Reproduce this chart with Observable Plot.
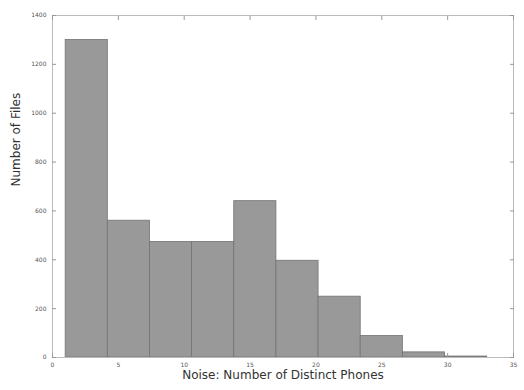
<!DOCTYPE html>
<html>
<head>
<meta charset="utf-8">
<script src="https://cdn.jsdelivr.net/npm/d3@7"></script>
<script src="https://cdn.jsdelivr.net/npm/@observablehq/plot@0.6"></script>
<style>
  html, body { margin: 0; padding: 0; background: #fff; }
  #chart { width: 524px; height: 390px; }
</style>
</head>
<body>
<div id="chart"></div>
<script>
// Histogram bins (edges) and counts
const binStart = [1, 4.2, 7.4, 10.6, 13.8, 17.0, 20.2, 23.4, 26.6, 29.8];
const binEnd   = [4.2, 7.4, 10.6, 13.8, 17.0, 20.2, 23.4, 26.6, 29.8, 33.0];
const counts   = [1300, 560, 473, 473, 640, 396, 249, 88, 21, 4];
const xTicks = [0, 5, 10, 15, 20, 25, 30, 35];
const yTicks = [0, 200, 400, 600, 800, 1000, 1200, 1400];

const bins = binStart.map((s, i) => ({x1: s, x2: binEnd[i], y: counts[i]}));

const chart = Plot.plot({
  width: 524,
  height: 390,
  marginLeft: 52,
  marginRight: 11,
  marginTop: 15,
  marginBottom: 33,
  style: {fontFamily: "DejaVu Sans, sans-serif", background: "#fff"},
  x: {domain: [0, 35]},
  y: {domain: [0, 1400]},
  marks: [
    Plot.rectY(bins, {x1: "x1", x2: "x2", y: "y", fill: "#999999", stroke: "#737373", strokeWidth: 0.8}),
    Plot.frame({stroke: "#bbbbbb", strokeWidth: 1}),
    Plot.axisX({ticks: xTicks, tickSize: -4, tickPadding: 9, fontSize: 6, color: "#555", stroke: "#999", label: null}),
    Plot.axisX({ticks: xTicks, anchor: "top", tickSize: -4, tickFormat: () => "", stroke: "#999", label: null}),
    Plot.axisY({ticks: yTicks, tickSize: -4, tickPadding: 10, tickFormat: "d", fontSize: 6, color: "#555", stroke: "#999", label: null}),
    Plot.axisY({ticks: yTicks, anchor: "right", tickSize: -4, tickFormat: () => "", stroke: "#999", label: null}),
    Plot.text(["Noise: Number of Distinct Phones"], {frameAnchor: "bottom", dy: 21, fontSize: 12, fill: "#333"}),
    Plot.text(["Number of Files"], {frameAnchor: "left", dx: -36, rotate: -90, fontSize: 12, fill: "#333"})
  ]
});
document.getElementById("chart").appendChild(chart);
</script>
</body>
</html>
